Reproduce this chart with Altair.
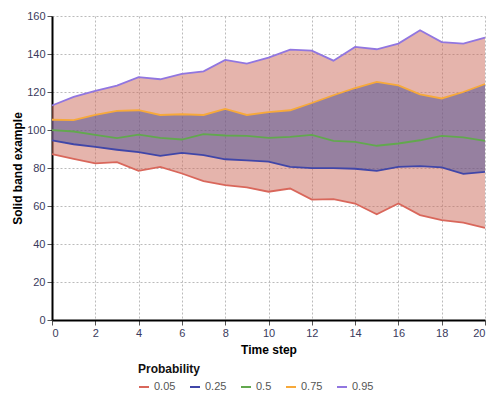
import altair as alt
import pandas as pd

steps = list(range(21))
q05 = [87.3, 84.8, 82.4, 83.1, 78.5, 80.6, 77.1, 73.1, 71.0, 69.8, 67.5, 69.2, 63.4, 63.6, 61.3, 55.6, 61.3, 55.2, 52.6, 51.2, 48.5]
q25 = [94.5, 92.5, 91.1, 89.6, 88.3, 86.4, 88.0, 86.8, 84.6, 84.0, 83.4, 80.6, 79.9, 79.9, 79.6, 78.5, 80.6, 81.0, 80.3, 76.9, 78.0]
q50 = [99.9, 99.2, 97.4, 95.7, 97.6, 95.9, 95.0, 97.8, 97.1, 96.9, 95.9, 96.4, 97.4, 94.3, 93.8, 91.7, 92.9, 94.6, 96.9, 96.1, 94.3]
q75 = [105.4, 105.2, 107.9, 110.1, 110.4, 107.9, 108.3, 107.9, 111.1, 107.9, 109.4, 110.4, 114.2, 118.3, 122.1, 125.3, 123.5, 118.8, 116.6, 120.0, 124.2]
q95 = [112.9, 117.4, 120.6, 123.4, 127.8, 126.7, 129.5, 130.9, 136.9, 134.9, 138.1, 142.3, 141.8, 136.5, 143.7, 142.5, 145.5, 152.5, 146.3, 145.5, 148.6]

probs = ["0.05", "0.25", "0.5", "0.75", "0.95"]
line_colors = ["#d9675b", "#4046a8", "#62a84e", "#f7a93a", "#9176e0"]
x_ticks = list(range(0, 21, 2))
y_ticks = list(range(0, 161, 20))

wide = pd.DataFrame({"t": steps, "q05": q05, "q25": q25, "q50": q50, "q75": q75, "q95": q95})
long = pd.DataFrame({
    "t": steps * 5,
    "value": q05 + q25 + q50 + q75 + q95,
    "Probability": sum([[p] * len(steps) for p in probs], []),
})

x_enc = alt.X("t:Q", title="Time step", scale=alt.Scale(domain=[0, 20], nice=False),
              axis=alt.Axis(values=x_ticks))
y_scale = alt.Scale(domain=[0, 160], nice=False)
y_axis = alt.Axis(values=y_ticks, labelOverlap=False)

outer = alt.Chart(wide).mark_area(color="#cb6959", opacity=0.5).encode(
    x=x_enc,
    y=alt.Y("q05:Q", title="Solid band example", scale=y_scale, axis=y_axis),
    y2="q95:Q",
)
inner = alt.Chart(wide).mark_area(color="#474c94", opacity=0.5).encode(
    x=x_enc,
    y=alt.Y("q25:Q", title="Solid band example", scale=y_scale, axis=y_axis),
    y2="q75:Q",
)
lines = alt.Chart(long).mark_line(strokeWidth=1.8).encode(
    x=x_enc,
    y=alt.Y("value:Q", title="Solid band example", scale=y_scale, axis=y_axis),
    color=alt.Color("Probability:N", scale=alt.Scale(domain=probs, range=line_colors),
                    legend=alt.Legend(orient="none", legendX=86, legendY=348, direction="horizontal",
                                      symbolType="stroke", symbolStrokeWidth=2, symbolSize=100,
                                      titleFontSize=12, titleFont="Liberation Sans", labelFont="Liberation Sans",
                                      labelFontSize=11, labelColor="#555555", columnPadding=10,
                                      titleColor="#111111")),
)

chart = alt.layer(outer, inner, lines).properties(
    width=433, height=304,
    autosize=alt.AutoSizeParams(type="none"),
    padding={"left": 44, "top": 8, "right": 7, "bottom": 73},
).configure_axis(
    domainColor="#000000", domainWidth=2, tickColor="#555555", tickSize=5,
    gridColor="#bbbbbb", gridDash=[2, 2], gridWidth=1,
    labelFont="Liberation Sans", labelFontSize=11, labelColor="#3a3a5c",
    titleFont="Liberation Sans", titleFontSize=12, titleFontWeight="bold", titleColor="#000000",
).configure_axisY(titlePadding=2, labelPadding=2).configure_axisX(titlePadding=6).configure_view(stroke=None)

chart.save("out.html", embed_options={"renderer": "svg", "actions": False})
